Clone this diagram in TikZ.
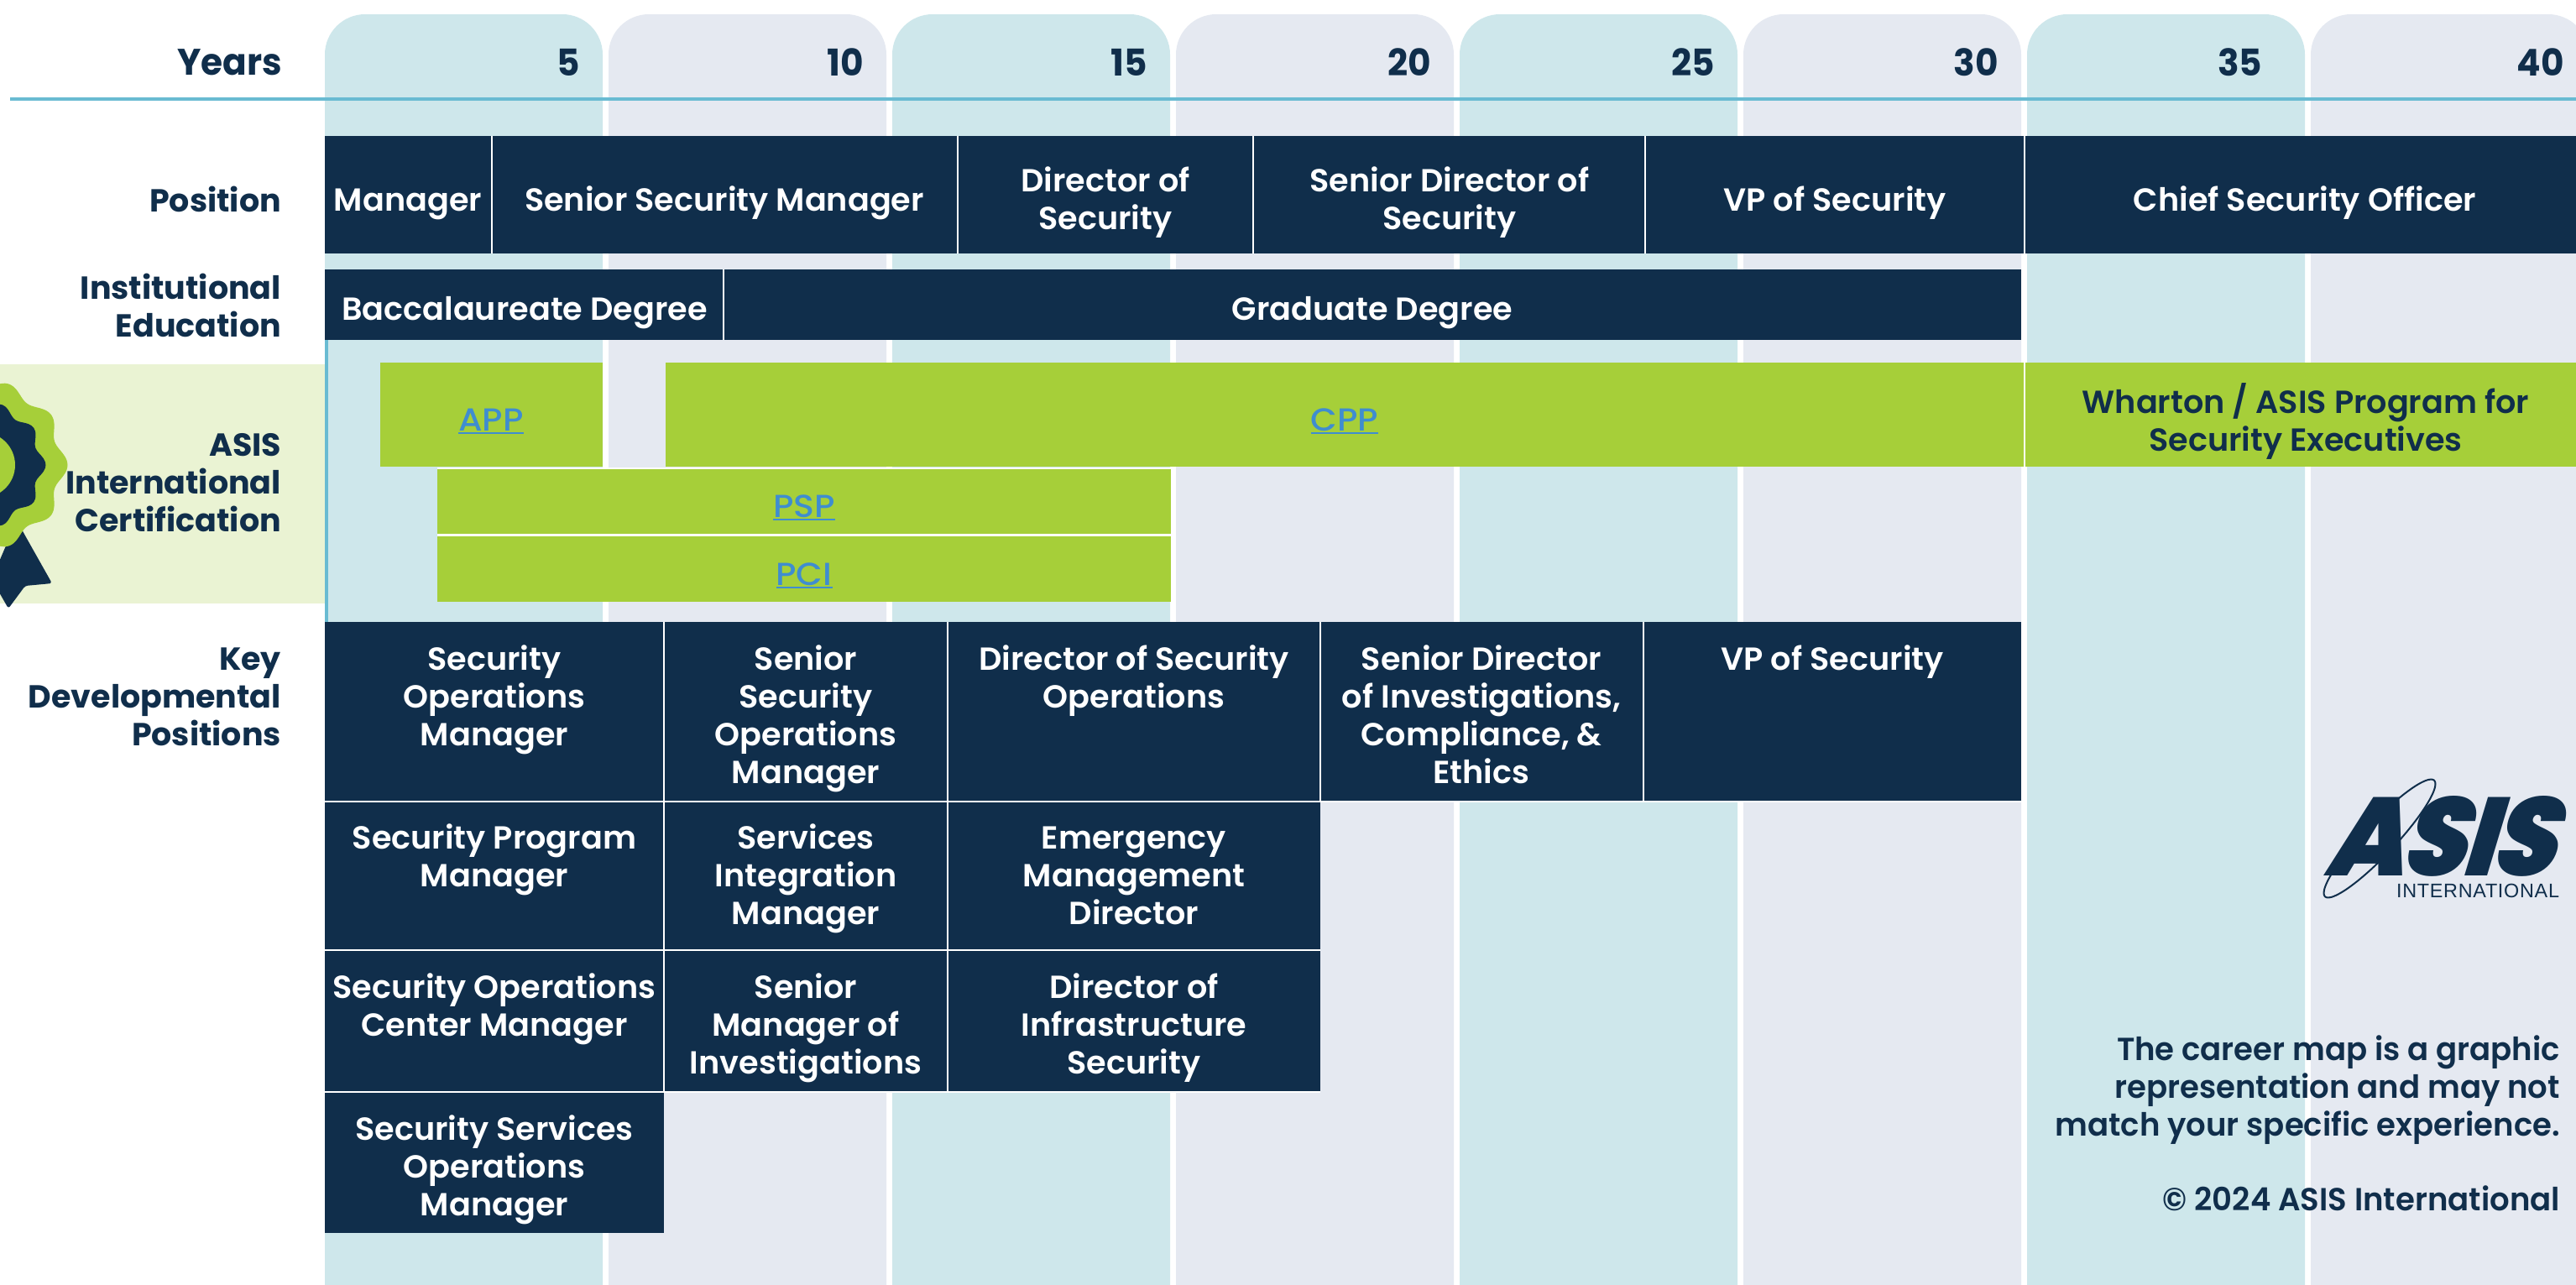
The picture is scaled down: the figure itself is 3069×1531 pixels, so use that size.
\documentclass[tikz,border=0pt]{standalone}
\usepackage{fontspec}
\setmainfont{Poppins SemiBold}[FakeStretch=1.005]
\newfontfamily\fbold{Poppins Bold}[FakeStretch=1.0]
\newfontfamily\fyear{Poppins Bold}[FakeStretch=0.96]
\newfontfamily\fnote{Poppins SemiBold}[FakeStretch=0.975]
\newfontfamily\flink{Poppins Medium}[FakeStretch=1.08]
\newfontfamily\logofont{Poppins Black}[FakeSlant=0.3,FakeStretch=0.92,LetterSpace=-3]
\newfontfamily\logosub{Liberation Sans}[LetterSpace=3]
\definecolor{navy}{HTML}{102E4B}
\definecolor{lime}{HTML}{A6CF39}
\definecolor{colA}{HTML}{CEE7EB}
\definecolor{colB}{HTML}{E5E9F1}
\definecolor{band}{HTML}{EAF3D3}
\definecolor{rule}{HTML}{69BBD2}
\definecolor{linkc}{HTML}{3F8DD0}
\newcommand{\tc}[1]{\begin{tabular}{@{}c@{}}#1\end{tabular}}
\newcommand{\tr}[1]{\begin{tabular}{@{}r@{}}#1\end{tabular}}
\newcommand{\lnk}[1]{\textcolor{linkc}{\setbox0\hbox{\flink #1}\rlap{\rule[-1.85pt]{\wd0}{1pt}}\box0}}
\tikzset{
  every node/.style={inner sep=0pt,outer sep=0pt},
  bodyfont/.style={font=\fontsize{19}{22.5}\selectfont},
  boxdark/.style={fill=navy},
  boxlime/.style={fill=lime},
  darktext/.style={text=white,bodyfont},
  limetext/.style={text=navy,bodyfont},
  celltext/.style={text=white,bodyfont,anchor=north},
  rowlabel/.style={text=navy,anchor=east,font=\fontsize{19}{22.5}\fbold\selectfont},
  yearlabel/.style={text=navy,anchor=east,font=\fontsize{22}{24}\fyear\selectfont},
  note/.style={text=navy,anchor=north east,font=\fontsize{19}{22.5}\fnote\selectfont},
  divider/.style={draw=white,line width=1.25pt}
}
% style, name, x1, y1, x2, y2 (empty box)
\newcommand{\bx}[6]{%
  \node[#1,minimum width={(#5-#3)*0.5pt},minimum height={(#6-#4)*0.5pt}] (#2) at ({(#3+#5)/2},{(#4+#6)/2}) {};}
\begin{document}
\begin{tikzpicture}[x=0.5pt,y=-0.5pt]
\useasboundingbox (0,0) rectangle (3069,1531);
\clip (0,0) rectangle (3069,1531);
% columns
\foreach \cx/\cc in {387/colA,725/colB,1063/colA,1401/colB,1739/colA,2077/colB,2415/colA,2753/colB}{
  \fill[\cc,rounded corners=24pt] (\cx,1620) -- (\cx,17) -- ({\cx+331},17) -- ({\cx+331},1620) -- cycle;
}
% certification band
\fill[band] (0,434) rectangle (387,719);
% badge
\fill[navy,rounded corners=1.5pt] (20,620) -- (31,640) -- (62,695) -- (30,698) -- (10,725) -- (-10,690) -- cycle;
\fill[lime] plot[smooth cycle,samples=121,domain=0:357,variable=\t] ({-21+(96+5.5*cos(10*\t))*cos(\t)},{554+(96+5.5*cos(10*\t))*sin(\t)});
\fill[navy] plot[smooth cycle,samples=121,domain=0:357,variable=\t] ({-21+(71+4.5*cos(10*\t))*cos(\t)},{554+(71+4.5*cos(10*\t))*sin(\t)});
\fill[lime] (-21,554) circle[radius=19.5pt];
% blue rules
\fill[rule] (387,405) rectangle (391,741);
\fill[rule] (12,116) rectangle (3069,120);
% year labels
\node[yearlabel] (ly) at (336,74) {Years};
\foreach \cx/\yy in {691/5,1029/10,1367/15,1705/20,2043/25,2381/30,2695/35,3055/40}{
  \node[yearlabel] (y\yy) at (\cx,74) {\yy};
}
% row labels
\node[rowlabel] (lp) at (335,243) {\tr{Position}};
\node[rowlabel] (le) at (335,370) {\tr{Institutional\\Education}};
\node[rowlabel] (lc) at (335,579) {\tr{ASIS\\International\\Certification}};
\node[rowlabel] (lk) at (335,834) {\tr{Key\\Developmental\\Positions}};
% position
\bx{boxdark}{p1}{387}{162}{586}{302}
\bx{boxdark}{p2}{586}{162}{1141}{302}
\bx{boxdark}{p3}{1141}{162}{1493}{302}
\bx{boxdark}{p4}{1493}{162}{1960}{302}
\bx{boxdark}{p5}{1960}{162}{2412}{302}
\bx{boxdark}{p6}{2412}{162}{3075}{302}
\foreach \a in {p1,p2,p3,p4,p5}{\draw[divider] (\a.north east) -- (\a.south east);}
\node[darktext] (tp1) at (486,242) {\tc{Manager}};
\node[darktext] (tp2) at (863,242) {\tc{Senior Security Manager}};
\node[darktext] (tp3) at (1317,242) {\tc{Director of\\Security}};
\node[darktext] (tp4) at (1727,242) {\tc{Senior Director of\\Security}};
\node[darktext] (tp5) at (2186,242) {\tc{VP of Security}};
\node[darktext] (tp6) at (2746,242) {\tc{Chief Security Officer}};
% education
\bx{boxdark}{e1}{387}{321}{862}{405}
\bx{boxdark}{e2}{862}{321}{2408}{405}
\draw[divider] (e1.north east) -- (e1.south east);
\node[darktext] (te1) at (625,372) {\tc{Baccalaureate Degree}};
\node[darktext] (te2) at (1635,372) {\tc{Graduate Degree}};
% certification
\bx{boxlime}{c1}{453}{432}{718}{556}
\bx{boxlime}{c2}{793}{432}{2412}{556}
\bx{boxlime}{c3}{2412}{432}{3075}{556}
\bx{boxlime}{c4}{521}{558}{1395}{637.5}
\bx{boxlime}{c5}{521}{637.5}{1395}{717}
\draw[divider] (c2.north east) -- (c2.south east);
\draw[divider] (c4.north west) -- (c4.north east);
\draw[divider] (c4.south west) -- (c4.south east);
\node[limetext] (tc1) at (585,504) {\tc{\lnk{APP}}};
\node[limetext] (tc2) at (1602,504) {\tc{\lnk{CPP}}};
\node[limetext] (tc3) at (2747,504) {\tc{Wharton / ASIS Program for\\Security Executives}};
\node[limetext] (tc4) at (958,607) {\tc{\lnk{PSP}}};
\node[limetext] (tc5) at (958,688) {\tc{\lnk{PCI}}};
% key developmental positions
\bx{boxdark}{k11}{387}{741}{791}{955}
\bx{boxdark}{k12}{791}{741}{1129}{955}
\bx{boxdark}{k13}{1129}{741}{1573}{955}
\bx{boxdark}{k14}{1573}{741}{1958}{955}
\bx{boxdark}{k15}{1958}{741}{2408}{955}
\bx{boxdark}{k21}{387}{955}{791}{1132}
\bx{boxdark}{k22}{791}{955}{1129}{1132}
\bx{boxdark}{k23}{1129}{955}{1573}{1132}
\bx{boxdark}{k31}{387}{1132}{791}{1301}
\bx{boxdark}{k32}{791}{1132}{1129}{1301}
\bx{boxdark}{k33}{1129}{1132}{1573}{1301}
\bx{boxdark}{k41}{387}{1301}{791}{1469}
\foreach \a in {k11,k12,k13,k14,k21,k22,k31,k32}{\draw[divider] (\a.north east) -- (\a.south east);}
\foreach \a in {k11,k12,k13,k14,k15,k21,k22,k23,k31,k32,k33}{\draw[divider] (\a.south west) -- (\a.south east);}
\node[celltext] (t11) at (589,767) {\tc{Security\\Operations\\Manager}};
\node[celltext] (t12) at (960,767) {\tc{Senior\\Security\\Operations\\Manager}};
\node[celltext] (t13) at (1351,767) {\tc{Director of Security\\Operations}};
\node[celltext] (t14) at (1765,767) {\tc{Senior Director\\of Investigations,\\Compliance, \&\\Ethics}};
\node[celltext] (t15) at (2183,767) {\tc{VP of Security}};
\node[celltext] (t21) at (589,980) {\tc{Security Program\\Manager}};
\node[celltext] (t22) at (960,980) {\tc{Services\\Integration\\Manager}};
\node[celltext] (t23) at (1351,980) {\tc{Emergency\\Management\\Director}};
\node[celltext] (t31) at (589,1158) {\tc{Security Operations\\Center Manager}};
\node[celltext] (t32) at (960,1158) {\tc{Senior\\Manager of\\Investigations}};
\node[celltext] (t33) at (1351,1158) {\tc{Director of\\Infrastructure\\Security}};
\node[celltext] (t41) at (589,1327) {\tc{Security Services\\Operations\\Manager}};
% note
\node[note] (n1) at (3050,1232) {\tr{The career map is a graphic\\representation and may not\\match your specific experience.}};
\node[note] (n2) at (3050,1411) {\tr{\textcopyright{} 2024 ASIS International}};
% logo
\draw[navy,line width=1pt] plot[smooth cycle,samples=60,domain=0:354,variable=\t] ({2835+95*cos(\t)*cos(46.8)+19*sin(\t)*sin(46.8)},{999-95*cos(\t)*sin(46.8)+19*sin(\t)*cos(46.8)});
\node[text=navy,anchor=base east,text depth=0pt,font=\fontsize{66}{66}\logofont\selectfont] (la) at (3041,1043) {ASIS};
\node[text=navy,anchor=base east,text height=8pt,font=\fontsize{11.7}{12}\logosub\selectfont] (lb) at (3049,1069) {INTERNATIONAL};
\end{tikzpicture}
\end{document}
